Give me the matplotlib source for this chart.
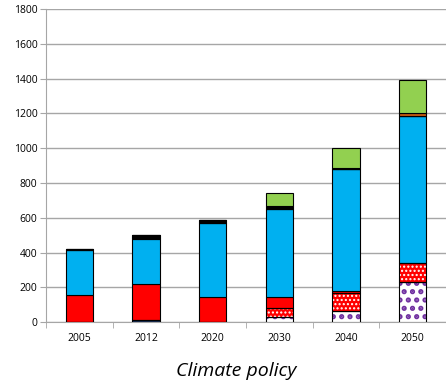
import matplotlib
matplotlib.use('Agg')
import matplotlib.pyplot as plt
import numpy as np

plt.rcParams['font.family'] = ['Open Sans', 'DejaVu Sans']

# stacked segments, bottom to top
years = ['2005', '2012', '2020', '2030', '2040', '2050']
purple = [0, 0, 0, 30, 65, 232]
navy = [0, 12, 0, 0, 0, 0]
red_dots = [0, 0, 0, 52, 105, 105]
red = [155, 205, 142, 60, 8, 0]
blue = [257, 258, 430, 508, 700, 850]
gray = [0, 10, 0, 0, 0, 0]
black = [8, 13, 12, 17, 0, 0]
brown = [0, 0, 0, 0, 10, 13]
green = [0, 0, 0, 73, 110, 191]

yticks = [0, 200, 400, 600, 800, 1000, 1200, 1400, 1600, 1800]

# (values, face colour, hatch, hatch colour, hatch line width)
layers = [
    (purple, 'white', '..', '#7030A0', 2.5),
    (navy, '#1F3864', None, None, 1),
    (red_dots, '#FF0000', '....', 'white', 1.0),
    (red, '#FF0000', None, None, 1),
    (blue, '#00B0F0', None, None, 1),
    (gray, '#808080', None, None, 1),
    (black, '#000000', None, None, 1),
    (brown, '#C55A11', None, None, 1),
    (green, '#92D050', None, None, 1),
]

fig = plt.figure(figsize=(4.46, 3.89), dpi=100)
ax = fig.add_axes([0.103, 0.172, 0.897, 0.805])

x = np.arange(len(years))
w = 0.41
bottom = np.zeros(len(years))
for vals, fc, hatch, hc, hlw in layers:
    vals = np.array(vals, dtype=float)
    plt.rcParams['hatch.linewidth'] = hlw
    if hatch:
        ax.bar(x, vals, w, bottom=bottom, color=fc, edgecolor=hc,
               hatch=hatch, linewidth=0, zorder=3)
        ax.bar(x, vals, w, bottom=bottom, fill=False, edgecolor='black',
               linewidth=0.8, zorder=4)
    else:
        ax.bar(x, vals, w, bottom=bottom, color=fc, edgecolor='black',
               linewidth=0.8, zorder=3)
    bottom += vals

ax.set_xlim(-0.5, len(years) - 0.5)
ax.set_ylim(0, 1800)
ax.set_yticks(yticks)
ax.set_yticklabels([str(v) for v in yticks], fontsize=7.5)
ax.yaxis.grid(True, color='#A6A6A6', linewidth=1, zorder=0)
ax.set_axisbelow(True)

ax.set_xticks(x)
ax.set_xticklabels(years, fontsize=7.5)
ax.set_xticks(np.arange(len(years) + 1) - 0.5, minor=True)
ax.tick_params(axis='x', which='major', length=0, pad=8)
ax.tick_params(axis='x', which='minor', length=4, color='#A6A6A6')
ax.tick_params(axis='y', length=4, color='#A6A6A6', pad=2)

for s in ['top', 'right']:
    ax.spines[s].set_visible(False)
for s in ['left', 'bottom']:
    ax.spines[s].set_color('#A6A6A6')

fig.text(0.53, 0.045, 'Climate policy', fontsize=14, style='italic',
         ha='center', va='center')

fig.savefig('out.png', dpi=100)
